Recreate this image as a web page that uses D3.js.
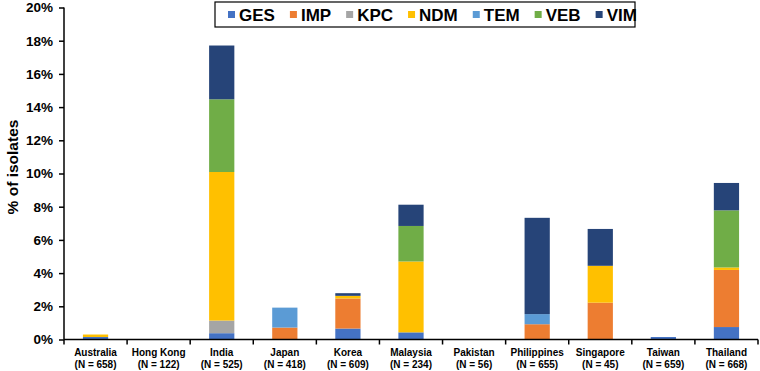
<!DOCTYPE html>
<html>
<head>
<meta charset="utf-8">
<script src="https://cdn.jsdelivr.net/npm/d3@7"></script>
<style>
  body { margin: 0; background: #fff; }
  text { font-family: "Liberation Sans", Arial, sans-serif; font-weight: bold; }
</style>
</head>
<body>
<div id="vis"></div>
<script>
// countries and sample sizes
var countries = ['Australia', 'Hong Kong', 'India', 'Japan', 'Korea', 'Malaysia',
                 'Pakistan', 'Philippines', 'Singapore', 'Taiwan', 'Thailand'];
var sampleN = [658, 122, 525, 418, 609, 234, 56, 655, 45, 659, 668];

// % of isolates per gene
var genes = ['GES', 'IMP', 'KPC', 'NDM', 'TEM', 'VEB', 'VIM'];
var GES = [0.15, 0, 0.38, 0,    0.66, 0.43, 0, 0,    0,    0.15, 0.75];
var IMP = [0,    0, 0,    0.72, 1.81, 0,    0, 0.92, 2.22, 0,    3.44];
var KPC = [0,    0, 0.76, 0,    0,    0,    0, 0,    0,    0,    0];
var NDM = [0.15, 0, 8.95, 0,    0.16, 4.27, 0, 0,    2.22, 0,    0.15];
var TEM = [0,    0, 0,    1.20, 0,    0,    0, 0.61, 0,    0,    0];
var VEB = [0,    0, 4.38, 0,    0,    2.14, 0, 0,    0,    0,    3.44];
var VIM = [0,    0, 3.24, 0,    0.16, 1.28, 0, 5.80, 2.22, 0,    1.65];
var yTicks = [0, 2, 4, 6, 8, 10, 12, 14, 16, 18, 20];

var colors = ['#4472C4', '#ED7D31', '#A5A5A5', '#FFC000', '#5B9BD5', '#70AD47', '#264478'];
var series = [GES, IMP, KPC, NDM, TEM, VEB, VIM];

var rows = countries.map(function(c, i) {
    var r = { country: c };
    genes.forEach(function(g, j) { r[g] = series[j][i]; });
    return r;
});

var width = 760, height = 371;
var margin = { left: 64, right: 2, top: 7.5, bottom: 31.5 };
var drawWidth = width - margin.left - margin.right,
    drawHeight = height - margin.top - margin.bottom;

var svg = d3.select('#vis').append('svg')
            .attr('width', width)
            .attr('height', height);

var g = svg.append('g')
           .attr('transform', `translate(${margin.left}, ${margin.top})`);

var xScale = d3.scaleBand()
               .domain(countries)
               .range([0, drawWidth])
               .paddingInner(0.6)
               .paddingOuter(0.3);

var yScale = d3.scaleLinear()
               .domain([0, 20])
               .range([drawHeight, 0]);

var stack = d3.stack().keys(genes);
var stacked = stack(rows);

g.selectAll('g.layer')
 .data(stacked)
 .enter().append('g')
 .attr('class', 'layer')
 .attr('fill', (d, i) => colors[i])
 .selectAll('rect')
 .data(d => d)
 .enter().append('rect')
 .attr('x', d => xScale(d.data.country))
 .attr('width', xScale.bandwidth())
 .attr('y', d => yScale(d[1]))
 .attr('height', d => yScale(d[0]) - yScale(d[1]));

// y axis
var yAxis = d3.axisLeft(yScale)
              .tickValues(yTicks)
              .tickFormat(d => d + '%')
              .tickSize(5)
              .tickPadding(6);
var yAxisG = g.append('g').call(yAxis);
yAxisG.select('.domain').attr('stroke', '#000').attr('stroke-width', 1.5).attr('d', `M0,0V${drawHeight}`);
yAxisG.selectAll('.tick line').attr('stroke', '#000').attr('stroke-width', 1.5);
yAxisG.selectAll('.tick text')
      .attr('fill', '#000')
      .style('font-size', '13.5px')
      .style('font-weight', 'bold')
      .style('font-family', '"Liberation Sans", Arial, sans-serif');

// x axis line with category-boundary ticks
var xBase = g.append('g').attr('transform', `translate(0, ${drawHeight})`);
xBase.append('line')
     .attr('x1', 0).attr('x2', drawWidth)
     .attr('stroke', '#000').attr('stroke-width', 1.5);
xBase.selectAll('line.tk')
     .data(d3.range(countries.length + 1))
     .enter().append('line')
     .attr('class', 'tk')
     .attr('x1', d => d * drawWidth / countries.length)
     .attr('x2', d => d * drawWidth / countries.length)
     .attr('y1', 0).attr('y2', 5)
     .attr('stroke', '#000').attr('stroke-width', 1.5);

var labels = xBase.selectAll('text.cat')
     .data(countries)
     .enter().append('text')
     .attr('class', 'cat')
     .attr('text-anchor', 'middle')
     .style('font-size', '10px');
labels.append('tspan')
      .attr('x', d => xScale(d) + xScale.bandwidth() / 2)
      .attr('y', 16.5)
      .text(d => d);
labels.append('tspan')
      .attr('x', d => xScale(d) + xScale.bandwidth() / 2)
      .attr('y', 28.5)
      .text((d, i) => `(N = ${sampleN[i]})`);

// y title
svg.append('text')
   .attr('transform', `translate(18, 167) rotate(-90)`)
   .attr('text-anchor', 'middle')
   .style('font-size', '15.5px')
   .text('% of isolates');

// legend
var legend = svg.append('g');
var legendBox = legend.append('rect')
                      .attr('x', 215).attr('y', 2)
                      .attr('height', 25)
                      .attr('fill', '#fff')
                      .attr('stroke', '#000')
                      .attr('stroke-width', 1.2);
var lx = 228;
genes.forEach(function(gene, i) {
    legend.append('rect')
          .attr('x', lx).attr('y', 11)
          .attr('width', 7).attr('height', 7)
          .attr('fill', colors[i]);
    var t = legend.append('text')
                  .attr('x', lx + 11)
                  .attr('y', 21)
                  .style('font-size', '17px')
                  .text(gene);
    var w = t.node().getComputedTextLength();
    lx = lx + 11 + w + 15;
});
legendBox.attr('width', 635 - 215);
</script>
</body>
</html>
